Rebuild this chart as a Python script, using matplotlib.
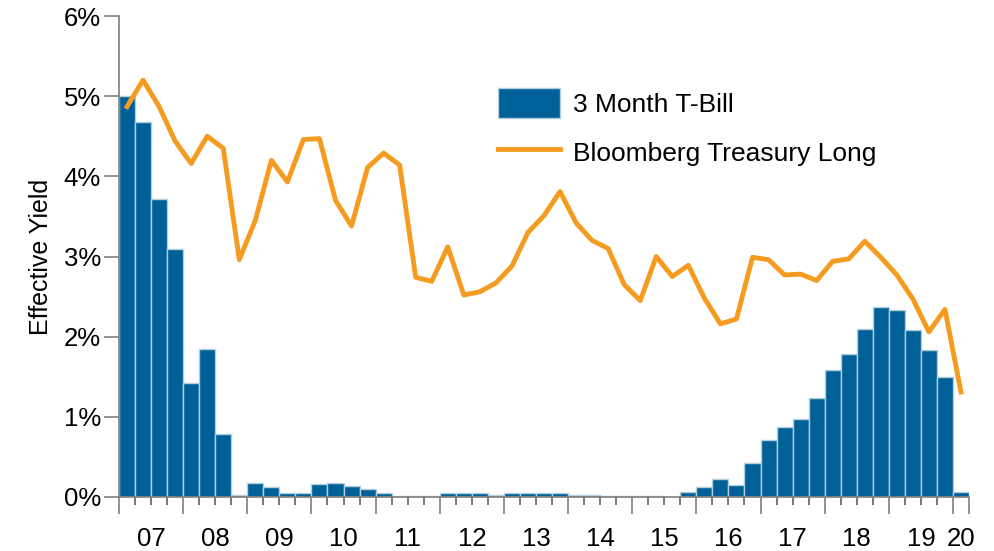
import matplotlib.pyplot as plt
import numpy as np

plt.rcParams['font.family'] = ['Liberation Sans', 'DejaVu Sans']

# quarterly, Q1 2007 .. Q1 2020
years = ['07', '08', '09', '10', '11', '12', '13', '14', '15', '16', '17', '18', '19', '20']
tbill = [5.00, 4.68, 3.72, 3.09,
         1.42, 1.85, 0.78, 0.02,
         0.17, 0.13, 0.05, 0.05,
         0.16, 0.17, 0.14, 0.10,
         0.05, 0.01, 0.01, 0.01,
         0.05, 0.05, 0.05, 0.03,
         0.05, 0.05, 0.05, 0.05,
         0.02, 0.02, 0.01, 0.01,
         0.01, 0.01, 0.00, 0.06,
         0.12, 0.22, 0.15, 0.42,
         0.71, 0.87, 0.97, 1.23,
         1.59, 1.79, 2.10, 2.37,
         2.33, 2.08, 1.83, 1.50,
         0.06]
treasury_long = [4.87, 5.20, 4.87, 4.44,
                 4.16, 4.50, 4.35, 2.96,
                 3.45, 4.20, 3.93, 4.46,
                 4.47, 3.70, 3.38, 4.11,
                 4.29, 4.14, 2.74, 2.69,
                 3.12, 2.52, 2.56, 2.67,
                 2.88, 3.30, 3.51, 3.81,
                 3.42, 3.20, 3.10, 2.65,
                 2.45, 3.00, 2.75, 2.89,
                 2.48, 2.16, 2.22, 2.99,
                 2.96, 2.77, 2.78, 2.70,
                 2.94, 2.97, 3.19, 2.99,
                 2.77, 2.47, 2.06, 2.34,
                 1.31]

n = len(tbill)
x = np.arange(n)

fig = plt.figure(figsize=(9.94, 5.51), dpi=100)
ax = fig.add_axes([119/994, 1-497/551, 850/994, 481/551])

bars = ax.bar(x, tbill, width=1, align='edge', color='#006199', edgecolor='#b3cde0',
              linewidth=1, label='3 Month T-Bill', zorder=2)
line, = ax.plot(x + 0.5, treasury_long, color='#F59B1F', lw=3.5,
                label='Bloomberg Treasury Long', zorder=3)

ax.set_xlim(0, n)
ax.set_ylim(0, 6)

for s in ['top', 'right']:
    ax.spines[s].set_visible(False)
for s in ['left', 'bottom']:
    ax.spines[s].set_color('#808080')
    ax.spines[s].set_linewidth(1.2)

# y axis
ax.set_yticks(range(7))
ax.set_yticklabels([f'{v}%' for v in range(7)])
ax.tick_params(axis='y', direction='out', length=11, width=1.2, color='#808080',
               labelsize=18.5, pad=2)
ax.set_ylabel('Effective Yield', fontsize=18, labelpad=8)

# x axis: long ticks at year edges, short ticks at each quarter
major = list(range(0, n, 4)) + [n]
ax.set_xticks(major)
ax.set_xticklabels([''] * len(major))
ax.set_xticks(np.arange(n + 1), minor=True)
ax.tick_params(axis='x', which='major', direction='out', length=12.5, width=1.2, color='#808080')
ax.tick_params(axis='x', which='minor', direction='out', length=6, width=1.2, color='#606060')

for i, y in enumerate(years):
    left = i * 4
    right = min(left + 4, n)
    ax.text((left + right) / 2, -0.37, y, ha='center', va='top', fontsize=18.5)

ax.legend(handles=[bars, line], loc='upper left', bbox_to_anchor=(0.446, 0.85),
          frameon=False, fontsize=19, handlelength=2.35, handleheight=1.35,
          handletextpad=0.5, labelspacing=0.75, borderpad=0, borderaxespad=0)

fig.savefig('out.png', dpi=100)
